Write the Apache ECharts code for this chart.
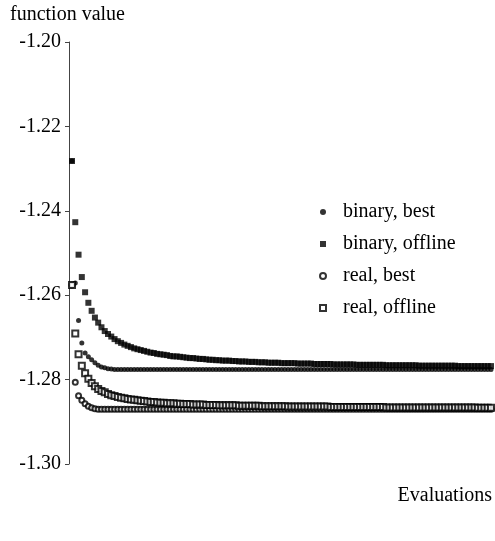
<!DOCTYPE html>
<html lang="en">
<head>
    <meta charset="UTF-8">
    <title>function value vs evaluations</title>
    <style>
        html, body { margin: 0; padding: 0; background: #fff; }
    </style>
</head>
<body>

<div id="main" style="width: 495px; height: 541px;"></div>

<script src="https://cdn.jsdelivr.net/npm/echarts@6/dist/echarts.min.js"></script>
<script>
    // y axis ticks
    var yTicks = [-1.30, -1.28, -1.26, -1.24, -1.22, -1.20];
    var seriesNames = ['binary, best', 'binary, offline', 'real, best', 'real, offline'];

    // one value per evaluation step
    var binaryBest = [
        -1.2282, -1.2571, -1.2660, -1.2713, -1.2737, -1.2746, -1.2753, -1.2760, -1.2766, -1.2770,
        -1.2772, -1.2774, -1.2775, -1.2776, -1.2776, -1.2776, -1.2776, -1.2776, -1.2776, -1.2776,
        -1.2776, -1.2776, -1.2776, -1.2776, -1.2776, -1.2776, -1.2776, -1.2776, -1.2776, -1.2776,
        -1.2776, -1.2776, -1.2776, -1.2776, -1.2776, -1.2776, -1.2776, -1.2776, -1.2776, -1.2776,
        -1.2776, -1.2776, -1.2776, -1.2776, -1.2776, -1.2776, -1.2776, -1.2776, -1.2776, -1.2776,
        -1.2776, -1.2776, -1.2776, -1.2776, -1.2776, -1.2776, -1.2776, -1.2776, -1.2776, -1.2776,
        -1.2776, -1.2776, -1.2776, -1.2776, -1.2776, -1.2776, -1.2776, -1.2776, -1.2776, -1.2776,
        -1.2776, -1.2776, -1.2776, -1.2776, -1.2776, -1.2776, -1.2776, -1.2776, -1.2776, -1.2776,
        -1.2776, -1.2776, -1.2776, -1.2776, -1.2776, -1.2776, -1.2776, -1.2776, -1.2776, -1.2776,
        -1.2776, -1.2776, -1.2776, -1.2776, -1.2776, -1.2776, -1.2776, -1.2776, -1.2776, -1.2776,
        -1.2776, -1.2776, -1.2776, -1.2776, -1.2776, -1.2776, -1.2776, -1.2776, -1.2776, -1.2776,
        -1.2776, -1.2776, -1.2776, -1.2776, -1.2776, -1.2776, -1.2776, -1.2776, -1.2776, -1.2776,
        -1.2776, -1.2776, -1.2776, -1.2776, -1.2776, -1.2776, -1.2776, -1.2776, -1.2776
    ];

    var binaryOffline = [
        -1.2282, -1.2427, -1.2504, -1.2557, -1.2593, -1.2618, -1.2637, -1.2653, -1.2665, -1.2676,
        -1.2685, -1.2692, -1.2698, -1.2704, -1.2709, -1.2713, -1.2717, -1.2720, -1.2723, -1.2726,
        -1.2728, -1.2730, -1.2732, -1.2734, -1.2736, -1.2737, -1.2739, -1.2740, -1.2741, -1.2742,
        -1.2744, -1.2745, -1.2745, -1.2746, -1.2747, -1.2748, -1.2749, -1.2749, -1.2750, -1.2751,
        -1.2751, -1.2752, -1.2753, -1.2753, -1.2754, -1.2754, -1.2755, -1.2755, -1.2755, -1.2756,
        -1.2756, -1.2757, -1.2757, -1.2757, -1.2758, -1.2758, -1.2758, -1.2759, -1.2759, -1.2759,
        -1.2760, -1.2760, -1.2760, -1.2760, -1.2761, -1.2761, -1.2761, -1.2761, -1.2761, -1.2762,
        -1.2762, -1.2762, -1.2762, -1.2762, -1.2763, -1.2763, -1.2763, -1.2763, -1.2763, -1.2763,
        -1.2764, -1.2764, -1.2764, -1.2764, -1.2764, -1.2764, -1.2764, -1.2765, -1.2765, -1.2765,
        -1.2765, -1.2765, -1.2765, -1.2765, -1.2765, -1.2765, -1.2766, -1.2766, -1.2766, -1.2766,
        -1.2766, -1.2766, -1.2766, -1.2766, -1.2766, -1.2766, -1.2767, -1.2767, -1.2767, -1.2767,
        -1.2767, -1.2767, -1.2767, -1.2767, -1.2767, -1.2767, -1.2767, -1.2767, -1.2768, -1.2768,
        -1.2768, -1.2768, -1.2768, -1.2768, -1.2768, -1.2768, -1.2768, -1.2768, -1.2768
    ];

    var realBest = [
        -1.2576, -1.2806, -1.2838, -1.2849, -1.2857, -1.2863, -1.2867, -1.2869, -1.2870, -1.2870,
        -1.2870, -1.2870, -1.2870, -1.2870, -1.2870, -1.2870, -1.2870, -1.2870, -1.2870, -1.2870,
        -1.2870, -1.2870, -1.2870, -1.2870, -1.2870, -1.2870, -1.2870, -1.2870, -1.2870, -1.2870,
        -1.2870, -1.2870, -1.2870, -1.2870, -1.2870, -1.2870, -1.2870, -1.2870, -1.2870, -1.2870,
        -1.2870, -1.2870, -1.2870, -1.2870, -1.2870, -1.2870, -1.2870, -1.2870, -1.2870, -1.2870,
        -1.2870, -1.2870, -1.2870, -1.2870, -1.2870, -1.2870, -1.2870, -1.2870, -1.2870, -1.2870,
        -1.2870, -1.2870, -1.2870, -1.2870, -1.2870, -1.2870, -1.2870, -1.2870, -1.2870, -1.2870,
        -1.2870, -1.2870, -1.2870, -1.2870, -1.2870, -1.2870, -1.2870, -1.2870, -1.2870, -1.2870,
        -1.2870, -1.2870, -1.2870, -1.2870, -1.2870, -1.2870, -1.2870, -1.2870, -1.2870, -1.2870,
        -1.2870, -1.2870, -1.2870, -1.2870, -1.2870, -1.2870, -1.2870, -1.2870, -1.2870, -1.2870,
        -1.2870, -1.2870, -1.2870, -1.2870, -1.2870, -1.2870, -1.2870, -1.2870, -1.2870, -1.2870,
        -1.2870, -1.2870, -1.2870, -1.2870, -1.2870, -1.2870, -1.2870, -1.2870, -1.2870, -1.2870,
        -1.2870, -1.2870, -1.2870, -1.2870, -1.2870, -1.2870, -1.2870, -1.2870, -1.2870
    ];

    var realOffline = [
        -1.2576, -1.2691, -1.2740, -1.2767, -1.2785, -1.2798, -1.2808, -1.2816, -1.2822, -1.2827,
        -1.2830, -1.2834, -1.2837, -1.2839, -1.2841, -1.2843, -1.2844, -1.2846, -1.2847, -1.2848,
        -1.2849, -1.2850, -1.2851, -1.2852, -1.2853, -1.2853, -1.2854, -1.2855, -1.2855, -1.2856,
        -1.2856, -1.2856, -1.2857, -1.2857, -1.2858, -1.2858, -1.2858, -1.2859, -1.2859, -1.2859,
        -1.2859, -1.2860, -1.2860, -1.2860, -1.2860, -1.2861, -1.2861, -1.2861, -1.2861, -1.2861,
        -1.2861, -1.2862, -1.2862, -1.2862, -1.2862, -1.2862, -1.2862, -1.2862, -1.2863, -1.2863,
        -1.2863, -1.2863, -1.2863, -1.2863, -1.2863, -1.2863, -1.2864, -1.2864, -1.2864, -1.2864,
        -1.2864, -1.2864, -1.2864, -1.2864, -1.2864, -1.2864, -1.2864, -1.2864, -1.2864, -1.2865,
        -1.2865, -1.2865, -1.2865, -1.2865, -1.2865, -1.2865, -1.2865, -1.2865, -1.2865, -1.2865,
        -1.2865, -1.2865, -1.2865, -1.2865, -1.2865, -1.2865, -1.2866, -1.2866, -1.2866, -1.2866,
        -1.2866, -1.2866, -1.2866, -1.2866, -1.2866, -1.2866, -1.2866, -1.2866, -1.2866, -1.2866,
        -1.2866, -1.2866, -1.2866, -1.2866, -1.2866, -1.2866, -1.2866, -1.2866, -1.2866, -1.2866,
        -1.2866, -1.2866, -1.2866, -1.2866, -1.2867, -1.2867, -1.2867, -1.2867, -1.2867
    ];

    // evaluation steps (x categories)
    var evaluations = binaryBest.map(function (v, i) { return i + 1; });

    var serifFont = '"Liberation Serif", "Times New Roman", serif';

    var myChart = echarts.init(document.getElementById('main'));

    var option = {
        backgroundColor: '#fff',
        animation: false,
        title: [
            {
                text: 'function value',
                left: 10,
                top: 5,
                padding: 0,
                textStyle: { fontFamily: serifFont, fontSize: 20, fontWeight: 'normal', color: '#000' }
            },
            {
                text: 'Evaluations',
                right: 3,
                top: 486,
                padding: 0,
                textStyle: { fontFamily: serifFont, fontSize: 20, fontWeight: 'normal', color: '#000' }
            }
        ],
        legend: {
            orient: 'vertical',
            left: 314,
            top: 197,
            itemWidth: 6,
            itemHeight: 6,
            itemGap: 12,
            data: seriesNames,
            textStyle: {
                fontFamily: serifFont,
                fontSize: 20,
                color: '#000',
                padding: [0, 0, 0, 12]
            }
        },
        grid: {
            left: 72,
            top: 42,
            width: 419,
            height: 422,
            containLabel: false
        },
        xAxis: {
            type: 'category',
            data: evaluations,
            boundaryGap: false,
            axisLine: { show: false },
            axisTick: { show: false },
            axisLabel: { show: false },
            splitLine: { show: false }
        },
        yAxis: {
            type: 'value',
            min: yTicks[0],
            max: yTicks[yTicks.length - 1],
            interval: 0.02,
            offset: 3,
            axisLine: { show: true, lineStyle: { color: '#444', width: 1 } },
            axisTick: { show: true, length: 4, lineStyle: { color: '#444' } },
            axisLabel: {
                margin: 8,
                fontFamily: serifFont,
                fontSize: 20,
                color: '#000',
                formatter: function (v) { return v.toFixed(2); }
            },
            splitLine: { show: false }
        },
        series: [
            {
                name: seriesNames[0],
                type: 'scatter',
                symbol: 'circle',
                symbolSize: 5,
                itemStyle: { color: '#000' },
                data: binaryBest
            },
            {
                name: seriesNames[1],
                type: 'scatter',
                symbol: 'rect',
                symbolSize: 6,
                itemStyle: { color: '#000' },
                data: binaryOffline
            },
            {
                name: seriesNames[2],
                type: 'scatter',
                symbol: 'emptyCircle',
                symbolSize: 5,
                itemStyle: { color: '#000', borderColor: '#000', borderWidth: 1 },
                data: realBest
            },
            {
                name: seriesNames[3],
                type: 'scatter',
                symbol: 'emptyRect',
                symbolSize: 6,
                itemStyle: { color: '#000', borderColor: '#000', borderWidth: 1 },
                data: realOffline
            }
        ]
    };
    myChart.setOption(option);
</script>
</body>
</html>
